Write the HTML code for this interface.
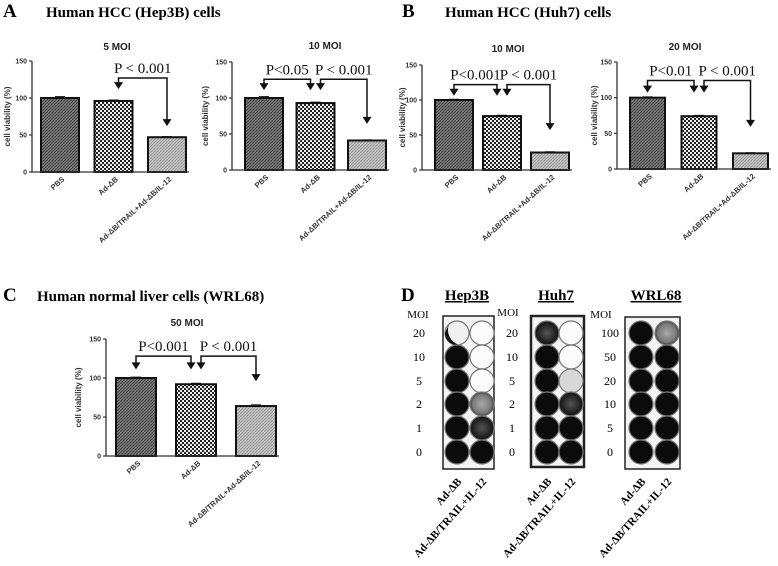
<!DOCTYPE html>
<html><head><meta charset="utf-8"><style>
html,body{margin:0;padding:0;background:#fff;}
svg{display:block;}
.pl{font-family:"Liberation Serif",serif;font-weight:bold;}
.pn{font-family:"Liberation Serif",serif;font-weight:normal;}
.sf{font-family:"Liberation Sans",sans-serif;font-weight:bold;}
</style></head><body>
<svg id="fig" width="778" height="566" viewBox="0 0 778 566" xmlns="http://www.w3.org/2000/svg">
<defs>
<pattern id="patPBS" width="3" height="3" patternUnits="userSpaceOnUse"><rect width="3" height="3" fill="#7a7a7a"/><path d="M0 3L3 0" stroke="#444" stroke-width="1"/></pattern>
<pattern id="patAd" width="4" height="4" patternUnits="userSpaceOnUse"><rect width="4" height="4" fill="#eee"/><rect width="2" height="2" fill="#222"/><rect x="2" y="2" width="2" height="2" fill="#222"/></pattern>
<pattern id="patCombo" width="3" height="3" patternUnits="userSpaceOnUse"><rect width="3" height="3" fill="#c4c4c4"/><path d="M0 3L3 0" stroke="#999" stroke-width="1"/></pattern>
<radialGradient id="speck"><stop offset="0" stop-color="#aaa"/><stop offset="0.8" stop-color="#777"/><stop offset="1" stop-color="#333"/></radialGradient>
<radialGradient id="speckDark"><stop offset="0" stop-color="#555"/><stop offset="1" stop-color="#111"/></radialGradient>
</defs>
<g class="pl" font-size="19">
<text x="3" y="17">A</text>
<text x="46" y="17" font-size="15">Human HCC (Hep3B) cells</text>
<text x="402" y="17">B</text>
<text x="445" y="17" font-size="15">Human HCC (Huh7) cells</text>
<text x="3" y="301">C</text>
<text x="37" y="301" font-size="15">Human normal liver cells (WRL68)</text>
<text x="401" y="301">D</text>
</g>
<g id="charts"></g>
<g id="plates"></g>
</svg>
<script>
// chart data
const categories = ["PBS", "Ad-\u0394B", "Ad-\u0394B/TRAIL+Ad-\u0394B/IL-12"];
const chartTitles = ["5 MOI", "10 MOI", "10 MOI", "20 MOI", "50 MOI"];
const valuesHep3B5 = [100, 96, 47];
const valuesHep3B10 = [100, 93, 41];
const valuesHuh7_10 = [100, 77, 25];
const valuesHuh7_20 = [100, 74, 22];
const valuesWRL68_50 = [100, 92, 64];
const errorsHep3B5 = [1.5, 1, 0.5];
const errorsHep3B10 = [1.5, 1, 0.5];
const errorsHuh7_10 = [0.8, 0.8, 0.8];
const errorsHuh7_20 = [0.8, 0.8, 0.5];
const errorsWRL68_50 = [0.8, 1, 1.2];
const yTicks = [0, 50, 100, 150];
// significance: [from bar, to bar, bracket level, left tip, right tip, label]
const sigHep3B5 = [[1, 2, 127, 112, 62, "P < 0.001"]];
const sigHep3B10 = [[0, 1, 126, 111, 111, "P<0.05"], [1, 2, 126, 111, 64, "P < 0.001"]];
const sigHuh7_10 = [[0, 1, 122, 106, 106, "P<0.001"], [1, 2, 122, 106, 57, "P < 0.001"]];
const sigHuh7_20 = [[0, 1, 124, 107, 107, "P<0.01"], [1, 2, 124, 107, 59, "P < 0.001"]];
const sigWRL68_50 = [[0, 1, 128, 111, 111, "P<0.001"], [1, 2, 128, 111, 96, "P < 0.001"]];

const layouts = [
 {name:"hep3b-5moi", ax:32, y0:172, y150:61, first:41, step:53.5, bw:38, yt:10, tx:117, ty:50, vals:valuesHep3B5, errs:errorsHep3B5, sig:sigHep3B5, title:0},
 {name:"hep3b-10moi", ax:232, y0:170, y150:62, first:245, step:51.5, bw:38, yt:208, tx:325, ty:49, vals:valuesHep3B10, errs:errorsHep3B10, sig:sigHep3B10, title:1},
 {name:"huh7-10moi", ax:422, y0:170, y150:65, first:435, step:48, bw:38, yt:405, tx:508, ty:52, vals:valuesHuh7_10, errs:errorsHuh7_10, sig:sigHuh7_10, title:2},
 {name:"huh7-20moi", ax:617, y0:169, y150:62, first:630, step:51.5, bw:35, yt:597, tx:685, ty:50, vals:valuesHuh7_20, errs:errorsHuh7_20, sig:sigHuh7_20, title:3},
 {name:"wrl68-50moi", ax:106, y0:456, y150:339, first:116, step:60, bw:40, yt:81, tx:187, ty:326, vals:valuesWRL68_50, errs:errorsWRL68_50, sig:sigWRL68_50, title:4}
];
const fills = ["url(#patPBS)", "url(#patAd)", "url(#patCombo)"];
const NS = "http://www.w3.org/2000/svg";
function mk(tag, attrs, parent){const e=document.createElementNS(NS,tag);for(const k in attrs)e.setAttribute(k,attrs[k]);parent.appendChild(e);return e;}
const root = document.getElementById("charts");
layouts.forEach(L=>{
 const g = mk("g",{},root);
 
 
 const y = v => L.y0 - (L.y0 - L.y150) * v / 150;
 const bx = i => L.first + i * L.step;
 const t = mk("text",{x:L.tx,y:L.ty,"text-anchor":"middle","font-size":"10",class:"sf",fill:"#222"},g);
 t.textContent = chartTitles[L.title];
 
 
 const yt = mk("text",{x:L.yt,y:(L.y0+L.y150)/2,"text-anchor":"middle","font-size":"8",class:"sf",fill:"#333",transform:`rotate(-90 ${L.yt} ${(L.y0+L.y150)/2})`},g);
 yt.textContent = "cell viability (%)";
 
 
 L.vals.forEach((v,i)=>{
  const r = mk("rect",{x:bx(i),y:y(v),width:L.bw,height:L.y0-y(v),fill:fills[i],stroke:"#111","stroke-width":"2"},g);
  
  
  const cx = bx(i)+L.bw/2;
  const e = mk("path",{d:`M${cx} ${y(v)}V${y(v+L.errs[i])}M${cx-5} ${y(v+L.errs[i])}H${cx+5}`,stroke:"#111","stroke-width":"1.5"},g);
  
  
  const lx = cx+5, ly = L.y0+8;
  const xl = mk("text",{x:lx,y:ly,"text-anchor":"end","font-size":"7.5",class:"sf",fill:"#333",transform:`rotate(-42 ${lx} ${ly})`},g);
  xl.textContent = categories[i];
  
  
 });
 const right = bx(2)+L.bw+3;
 const ax = mk("path",{d:`M${L.ax} ${L.y150}V${L.y0}H${right}`,stroke:"#333","stroke-width":"1.3",fill:"none"},g);
 
 
 yTicks.forEach(tv=>{
  const tk = mk("path",{d:`M${L.ax-3} ${y(tv)}H${L.ax}`,stroke:"#333","stroke-width":"1.2"},g);
  
  
  const tl = mk("text",{x:L.ax-5,y:y(tv)+2.5,"text-anchor":"end","font-size":"7",class:"sf",fill:"#333"},g);
  tl.textContent = tv;
  
  
 });
 L.sig.forEach(s=>{
  const a = bx(s[0])+L.bw/2 + (s[0]===1?5:0), b = bx(s[1])+L.bw/2 - (s[1]===1?5:0);
  const yb = y(s[2]);
  const br = mk("path",{d:`M${a} ${y(s[3])-6}V${yb}H${b}V${y(s[4])-6}`,stroke:"#111","stroke-width":"1.5",fill:"none"},g);
  
  
  [[a,s[3]],[b,s[4]]].forEach(p=>{
   const ty=y(p[1]);
   const ar = mk("path",{d:`M${p[0]-4.5} ${ty-7}H${p[0]+4.5}L${p[0]} ${ty}Z`,fill:"#111"},g);
   
   
  });
  const pt = mk("text",{x:(a+b)/2,y:yb-5,"text-anchor":"middle","font-size":"15",class:"pn",fill:"#111"},g);
  pt.textContent = s[5];
  
  
 });
});

// panel D plates
const rowsStd = ["20","10","5","2","1","0"];
const rowsWRL = ["100","50","20","10","5","0"];
const rowY = [333,357,381,404,428,452];
const plates = [
 {name:"hep3b", title:"Hep3B", tx:467, rows:rowsStd, lx:419, mx:418, my:318, box:[443,316,51,153], wx:[457,482], bw:1.5,
  wells:[["half","white"],["black","white"],["black","white"],["black","speck"],["black","dark"],["black","black"]]},
 {name:"huh7", title:"Huh7", tx:556, rows:rowsStd, lx:512, mx:508, my:316, box:[531,316,53,151], wx:[547,571], bw:2.5,
  wells:[["dark","white"],["black","white"],["black","light"],["black","dark"],["black","black"],["black","black"]]},
 {name:"wrl68", title:"WRL68", tx:656, rows:rowsWRL, lx:610, mx:601, my:318, box:[625,317,55,152], wx:[641,667], bw:1.5,
  wells:[["black","speck"],["black","black"],["black","black"],["black","black"],["black","black"],["black","black"]]}
];
const wellFill = {black:"#0b0b0b", white:"#fbfbfb", speck:"url(#speck)", dark:"url(#speckDark)", light:"#d8d8d8", half:"#f0f0f0"};
const pr = document.getElementById("plates");
plates.forEach(P=>{
 const g = mk("g",{},pr);
 
 
 const tt = mk("text",{x:P.tx,y:300,"text-anchor":"middle","font-size":"15",class:"pl","text-decoration":"underline"},g);
 tt.textContent = P.title;
 
 
 const m = mk("text",{x:P.mx,y:P.my,"text-anchor":"middle","font-size":"11",class:"pn"},g);
 m.textContent = "MOI";
 
 
 const bx = mk("rect",{x:P.box[0],y:P.box[1],width:P.box[2],height:P.box[3],fill:"#f4f4f4",stroke:"#222","stroke-width":P.bw},g);
 
 
 P.rows.forEach((r,i)=>{
  const l = mk("text",{x:P.lx,y:rowY[i]+4,"text-anchor":"middle","font-size":"12",class:"pn"},g);
  l.textContent = r;
  
  
  P.wells[i].forEach((w,j)=>{
   const c = mk("circle",{cx:P.wx[j],cy:rowY[i],r:12,fill:wellFill[w],stroke:"#777","stroke-width":"1.2"},g);
   
   
   if(w==="half"){
    const h = mk("path",{d:`M${P.wx[j]-12} ${rowY[i]}A12 12 0 0 0 ${P.wx[j]+2} ${rowY[i]+12}A16 16 0 0 1 ${P.wx[j]-8} ${rowY[i]-9}Z`,fill:"#111"},g);
    
    
   }
  });
 });
 const labs = ["Ad-\u0394B","Ad-\u0394B/TRAIL+IL-12"];
 labs.forEach((s,j)=>{
  const x = P.wx[j]+5, yy = 482;
  const t = mk("text",{x:x,y:yy,"text-anchor":"end","font-size":"11",class:"pl",transform:`rotate(-48 ${x} ${yy})`},g);
  t.textContent = s;
  
  
 });
});
</script>
</body></html>
